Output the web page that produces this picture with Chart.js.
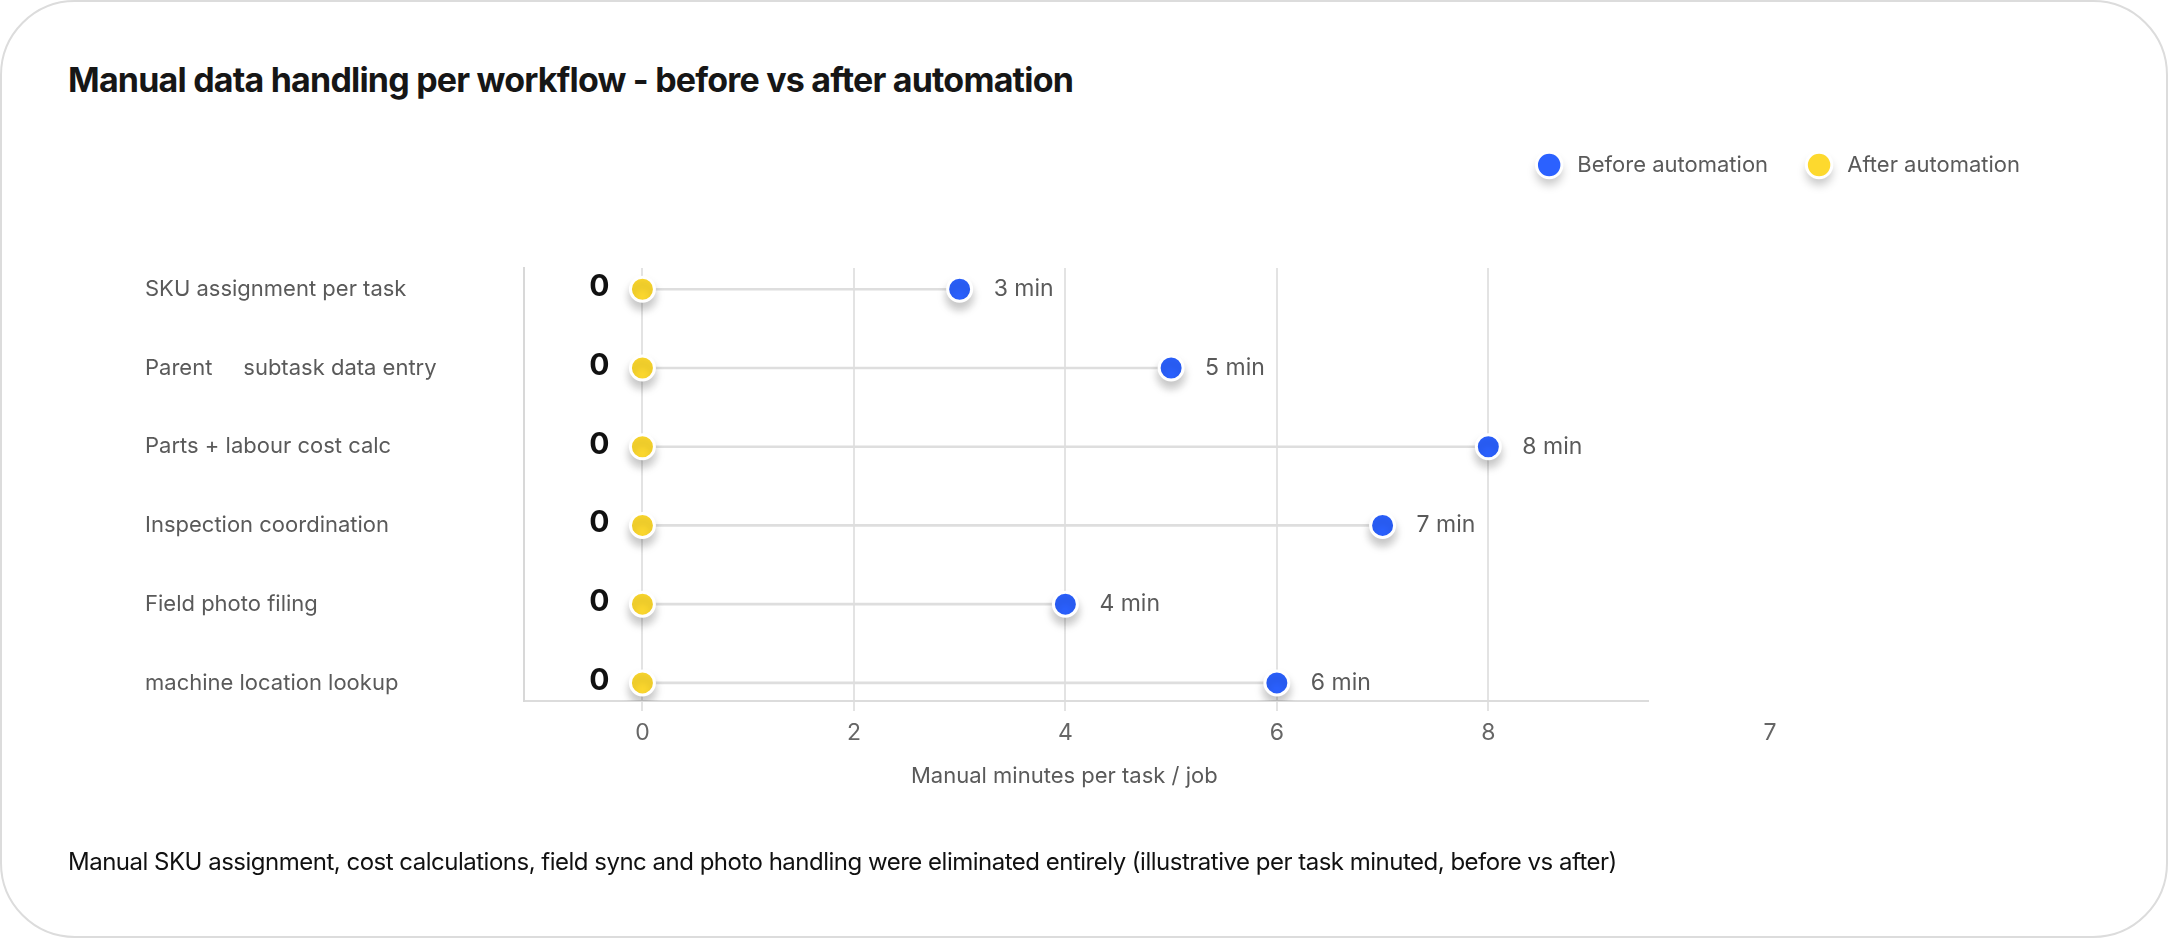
<!DOCTYPE html>
<html>
<head>
<meta charset="utf-8">
<title>Manual data handling per workflow</title>
<script src="https://cdn.jsdelivr.net/npm/chart.js@4.4.1/dist/chart.umd.min.js"></script>
<style>
	html, body { margin: 0; padding: 0; background: #fff; }
	body { width: 2168px; height: 938px; overflow: hidden; position: relative; font-family: Inter, 'Noto Sans', sans-serif; }
	.card { position: absolute; left: 0; top: 0; width: 2168px; height: 938px; box-sizing: border-box; border: 2px solid #dcdcdc; border-radius: 75px; }
	.chart-title { position: absolute; left: 68px; top: 63px; margin: 0; font-size: 34px; line-height: 34px; font-weight: 700; letter-spacing: -0.8px; color: #161616; white-space: nowrap; }
	.chart-note { position: absolute; left: 68px; top: 850px; margin: 0; font-size: 24px; line-height: 24px; letter-spacing: -0.5px; color: #111; white-space: nowrap; }
	.chart-wrap { position: absolute; left: 0; top: 0; width: 2168px; height: 938px; }
</style>
</head>
<body>
<div class="card"></div>
<h1 class="chart-title">Manual data handling per workflow - before vs after automation</h1>
<div class="chart-wrap"><canvas id="dumbbell"></canvas></div>
<p class="chart-note">Manual SKU assignment, cost calculations, field sync and photo handling were eliminated entirely (illustrative per task minuted, before vs after)</p>

<script>
	// rows, top to bottom
	const categories = [
		'SKU assignment per task',
		'Parent     subtask data entry',
		'Parts + labour cost calc',
		'Inspection coordination',
		'Field photo filing',
		'machine location lookup'
	];
	const beforeValues = [3, 5, 8, 7, 4, 6];
	const afterValues = [0, 0, 0, 0, 0, 0];
	const xTickValues = [0, 2, 4, 6, 8];
	const strayTickLabel = '7';

	const BLUE = '#2b61ff',
		YELLOW = '#fdd92e',
		GREY_TEXT = '#5a5a5a';

	const SHADOW = 'rgba(0, 0, 0, 0.22)';

	Chart.defaults.font.family = "Inter, 'Noto Sans', sans-serif";

	// soft drop shadow under the dots
	const dotShadow = {
		id: 'dotShadow',
		beforeDraw(chart) {
			// legend dots: paint a white disc with a shadow, the legend draws on top of it
			let legend = chart.legend;
			if (!legend || !legend.legendHitBoxes) return;
			let ctx = chart.ctx;
			ctx.save();
			ctx.shadowColor = SHADOW;
			ctx.shadowBlur = 10;
			ctx.shadowOffsetY = 7;
			ctx.fillStyle = '#fff';
			legend.legendHitBoxes.forEach(function (box) {
				ctx.beginPath();
				ctx.arc(box.left + 11, box.top + 11, 13, 0, Math.PI * 2);
				ctx.fill();
			});
			ctx.restore();
		},
		beforeDatasetDraw(chart, args) {
			if (args.meta.type !== 'scatter') return;
			let ctx = chart.ctx;
			ctx.save();
			ctx.shadowColor = SHADOW;
			ctx.shadowBlur = 10;
			ctx.shadowOffsetY = 7;
		},
		afterDatasetDraw(chart, args) {
			if (args.meta.type !== 'scatter') return;
			chart.ctx.restore();
		}
	};

	// extra room between legend and plot
	const legendGap = {
		id: 'legendGap',
		beforeInit(chart) {
			let fit = chart.legend.fit;
			chart.legend.fit = function () {
				fit.call(this);
				this.height += 82;
			};
		}
	};

	// "3 min" labels and the bold 0s
	const valueLabels = {
		id: 'valueLabels',
		afterDatasetsDraw(chart) {
			let ctx = chart.ctx;
			ctx.save();
			ctx.textBaseline = 'middle';

			chart.getDatasetMeta(1).data.forEach(function (pt, i) {
				ctx.font = "23px Inter, 'Noto Sans', sans-serif";
				ctx.fillStyle = GREY_TEXT;
				ctx.textAlign = 'left';
				ctx.fillText(beforeValues[i] + ' min', pt.x + 34, pt.y);
			});

			chart.getDatasetMeta(2).data.forEach(function (pt, i) {
				ctx.font = "bold 30px Inter, 'Noto Sans', sans-serif";
				ctx.fillStyle = '#111';
				ctx.textAlign = 'right';
				ctx.fillText(String(afterValues[i]), pt.x - 33, pt.y - 2);
			});

			// the odd label sitting past the end of the axis
			let x = chart.scales.x;
			ctx.font = "23px Inter, 'Noto Sans', sans-serif";
			ctx.fillStyle = '#666';
			ctx.textAlign = 'center';
			ctx.fillText(strayTickLabel, x.right + 122, x.top + 32);
			ctx.restore();
		}
	};

	new Chart(document.getElementById('dumbbell'), {
		type: 'scatter',
		data: {
			datasets: [
				{
					type: 'bar',
					label: 'range',
					indexAxis: 'y',
					xAxisID: 'x',
					yAxisID: 'y',
					order: 10,
					data: categories.map((c, i) => ({ y: i, x: [afterValues[i], beforeValues[i]] })),
					backgroundColor: '#dedede',
					barThickness: 2
				},
				{
					label: ' Before automation',
					xAxisID: 'x',
					yAxisID: 'y',
					data: beforeValues.map((v, i) => ({ x: v, y: i })),
					backgroundColor: BLUE,
					borderColor: '#fff',
					borderWidth: 3,
					pointRadius: 12,
					pointHoverRadius: 12
				},
				{
					label: ' After automation',
					xAxisID: 'x',
					yAxisID: 'y',
					data: afterValues.map((v, i) => ({ x: v, y: i })),
					backgroundColor: YELLOW,
					borderColor: '#fff',
					borderWidth: 3,
					pointRadius: 12,
					pointHoverRadius: 12
				}
			]
		},
		options: {
			responsive: true,
			maintainAspectRatio: false,
			animation: false,
			layout: {
				padding: { left: 145, right: 108, top: 114, bottom: 148 }
			},
			plugins: {
				legend: {
					position: 'top',
					align: 'end',
					labels: {
						usePointStyle: true,
						pointStyle: 'circle',
						boxWidth: 22,
						boxHeight: 18,
						padding: 40,
						color: GREY_TEXT,
						font: { size: 22 },
						filter: item => item.datasetIndex !== 0
					}
				},
				tooltip: { enabled: false }
			},
			scales: {
				x: {
					type: 'linear',
					position: 'bottom',
					min: -1.12,
					max: 9.51,
					afterBuildTicks: s => { s.ticks = xTickValues.map(v => ({ value: v })); },
					afterFit: s => { s.height = 89; },
					grid: { color: '#e3e3e3', lineWidth: 2, tickLength: 10 },
					border: { display: true, color: '#dcdcdc', width: 2 },
					ticks: { padding: 8, color: '#666', font: { size: 23 }, autoSkip: false, maxRotation: 0 },
					title: {
						display: true,
						// trailing spaces nudge the centred title a little left, as in the original
						text: 'Manual minutes per task / job       ',
						color: GREY_TEXT,
						font: { size: 22 },
						padding: { top: 0, bottom: 0 }
					}
				},
				y: {
					type: 'linear',
					position: 'left',
					reverse: true,
					offset: false,
					min: -0.27,
					max: 5.23,
					afterBuildTicks: s => { s.ticks = categories.map((c, i) => ({ value: i })); },
					afterFit: s => { s.width = 379; },
					grid: { display: false, offset: false },
					border: { display: true, color: '#d8d8d8', width: 2 },
					ticks: {
						crossAlign: 'far',
						autoSkip: false,
						color: GREY_TEXT,
						font: { size: 22 },
						callback: v => categories[v]
					}
				},
				// empty axis that only keeps the right side of the card free
				yPad: {
					type: 'linear',
					position: 'right',
					afterFit: s => { s.width = 412; },
					grid: { display: false },
					border: { display: false },
					ticks: { display: false }
				}
			}
		},
		plugins: [dotShadow, legendGap, valueLabels]
	});
</script>
</body>
</html>
